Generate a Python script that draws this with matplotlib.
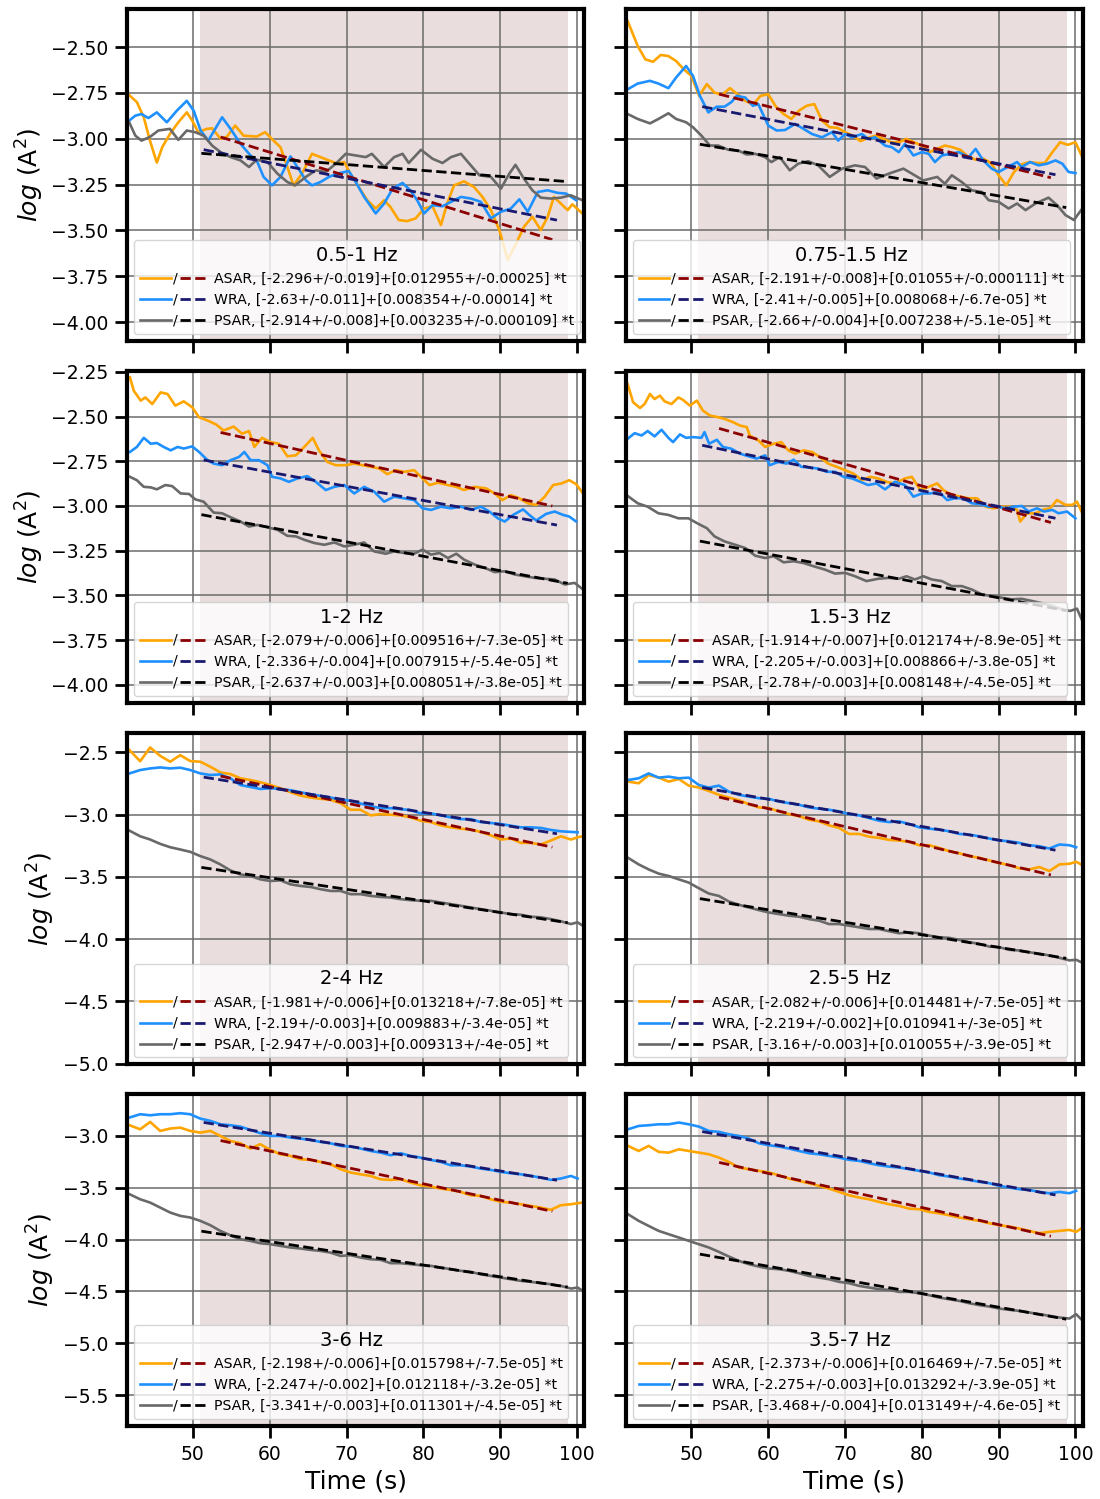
import matplotlib
matplotlib.use('Agg')
import matplotlib.pyplot as plt
import numpy as np
from matplotlib.legend_handler import HandlerBase
from matplotlib.lines import Line2D
from matplotlib.text import Text
from matplotlib.ticker import MultipleLocator

# frequency bands, one per panel
bands = ['0.5-1 Hz', '0.75-1.5 Hz', '1-2 Hz', '1.5-3 Hz',
         '2-4 Hz', '2.5-5 Hz', '3-6 Hz', '3.5-7 Hz']

# linear fit parameters: y = a - b*t   (a +/- ae, b +/- be)
asar_a = [-2.296, -2.191, -2.079, -1.914, -1.981, -2.082, -2.198, -2.373]
asar_ae = [0.019, 0.008, 0.006, 0.007, 0.006, 0.006, 0.006, 0.006]
asar_b = [0.012955, 0.01055, 0.009516, 0.012174, 0.013218, 0.014481, 0.015798, 0.016469]
asar_be = [0.00025, 0.000111, 7.3e-05, 8.9e-05, 7.8e-05, 7.5e-05, 7.5e-05, 7.5e-05]
wra_a = [-2.63, -2.41, -2.336, -2.205, -2.19, -2.219, -2.247, -2.275]
wra_ae = [0.011, 0.005, 0.004, 0.003, 0.003, 0.002, 0.002, 0.003]
wra_b = [0.008354, 0.008068, 0.007915, 0.008866, 0.009883, 0.010941, 0.012118, 0.013292]
wra_be = [0.00014, 6.7e-05, 5.4e-05, 3.8e-05, 3.4e-05, 3e-05, 3.2e-05, 3.9e-05]
psar_a = [-2.914, -2.66, -2.637, -2.78, -2.947, -3.16, -3.341, -3.468]
psar_ae = [0.008, 0.004, 0.003, 0.003, 0.003, 0.003, 0.003, 0.004]
psar_b = [0.003235, 0.007238, 0.008051, 0.008148, 0.009313, 0.010055, 0.011301, 0.013149]
psar_be = [0.000109, 5.1e-05, 3.8e-05, 4.5e-05, 4e-05, 3.9e-05, 4.5e-05, 4.6e-05]

# time windows of the fits and of the shaded window
fit_win = {'ASAR': (53.6, 96.8), 'WRA': (51.4, 97.4), 'PSAR': (51.1, 98.8)}
shade_win = (50.9, 98.9)

# ---- panel 1: 0.5-1 Hz  (t, log A^2)
p1_asar = [(41.7, -2.762), (42.7, -2.80), (43.6, -2.883), (44.4, -3.01), (45.3, -3.13), (46.0, -3.046),
           (47.0, -2.974), (48.1, -2.91), (49.2, -2.856), (49.9, -2.90), (50.7, -2.964), (51.8, -2.946),
           (52.5, -2.943), (53.6, -3.00), (54.4, -2.99), (55.5, -2.928), (56.6, -2.983), (58.3, -2.988),
           (59.4, -2.964), (60.5, -3.01), (61.4, -3.046), (62.3, -3.154), (63.1, -3.254), (64.2, -3.19),
           (65.5, -3.082), (66.6, -3.10), (67.7, -3.118), (68.8, -3.136), (69.7, -3.127), (70.5, -3.19),
           (71.6, -3.263), (72.7, -3.335), (73.8, -3.38), (74.9, -3.335), (75.7, -3.371), (76.8, -3.443),
           (77.9, -3.449), (79.0, -3.434), (80.1, -3.38), (81.2, -3.368), (82.3, -3.47), (83.1, -3.353),
           (84.0, -3.254), (85.3, -3.232), (86.6, -3.263), (87.7, -3.317), (88.8, -3.389), (89.9, -3.498),
           (91.0, -3.66), (92.1, -3.57), (93.1, -3.48), (94.2, -3.425), (95.3, -3.498), (96.2, -3.425),
           (97.0, -3.317), (97.9, -3.353), (98.8, -3.389), (99.4, -3.357), (100.7, -3.407)]
p1_wra = [(41.7, -2.901), (42.5, -2.874), (43.3, -2.865), (44.2, -2.887), (45.3, -2.856), (46.6, -2.91),
          (47.9, -2.847), (49.2, -2.793), (50.1, -2.847), (51.0, -2.955), (52.0, -3.01), (52.9, -2.946),
          (53.8, -2.883), (54.9, -2.946), (56.2, -3.028), (57.5, -3.091), (58.3, -3.118), (59.2, -3.208),
          (60.3, -3.254), (61.4, -3.208), (62.7, -3.096), (63.6, -3.154), (64.7, -3.226), (65.5, -3.254),
          (66.6, -3.236), (67.7, -3.208), (68.8, -3.19), (70.3, -3.176), (71.2, -3.236), (72.3, -3.317),
          (73.8, -3.407), (74.9, -3.353), (76.0, -3.272), (77.3, -3.241), (78.3, -3.281), (79.2, -3.335),
          (80.1, -3.407), (81.2, -3.362), (82.5, -3.368), (83.6, -3.344), (84.9, -3.317), (86.2, -3.326),
          (87.5, -3.344), (88.8, -3.434), (90.1, -3.398), (91.4, -3.38), (92.5, -3.33), (93.6, -3.398),
          (94.9, -3.29), (96.2, -3.281), (97.5, -3.295), (98.6, -3.299), (99.9, -3.335)]
p1_psar = [(41.7, -2.91), (42.5, -2.983), (43.3, -3.01), (44.4, -2.99), (45.5, -2.955), (47.0, -2.946),
           (48.1, -3.006), (49.2, -2.955), (50.3, -2.964), (51.4, -2.983), (52.5, -3.037), (53.6, -3.073),
           (54.9, -3.10), (56.2, -3.118), (57.3, -3.154), (58.3, -3.114), (59.7, -3.127), (61.0, -3.19),
           (62.3, -3.236), (63.3, -3.254), (64.7, -3.208), (66.0, -3.172), (67.3, -3.181), (68.6, -3.136),
           (69.9, -3.082), (71.2, -3.091), (72.5, -3.10), (73.3, -3.082), (74.9, -3.154), (76.2, -3.10),
           (77.3, -3.082), (78.1, -3.132), (79.7, -3.06), (81.2, -3.109), (82.5, -3.132), (83.6, -3.10),
           (84.9, -3.082), (86.0, -3.136), (87.3, -3.199), (88.8, -3.208), (90.1, -3.272), (91.2, -3.19),
           (92.0, -3.142), (93.1, -3.217), (94.2, -3.281), (95.3, -3.321), (96.6, -3.326), (97.9, -3.321),
           (99.2, -3.308), (100.7, -3.335)]

# ---- panel 2: 0.75-1.5 Hz
p2_asar = [(41.7, -2.359), (43, -2.494), (44, -2.567), (45, -2.58), (46, -2.543), (47, -2.549), (48, -2.576),
           (49, -2.621), (50, -2.657), (51, -2.766), (52, -2.702), (53, -2.748), (54, -2.76), (55, -2.724),
           (56, -2.757), (57, -2.793), (58, -2.814), (59, -2.766), (60, -2.757), (61, -2.825), (62, -2.865),
           (63, -2.892), (64, -2.847), (65, -2.82), (66, -2.811), (67, -2.901), (68, -2.937), (69, -2.94),
           (70, -2.964), (71, -2.983), (72, -3.013), (73, -2.995), (74, -2.983), (75, -3.001), (76, -3.019),
           (77, -3.019), (78, -3.001), (79, -3.019), (80, -3.037), (81, -3.073), (82, -3.055), (83, -3.037),
           (84, -3.046), (85, -3.06), (86, -3.096), (87, -3.114), (88, -3.109), (89, -3.132), (90, -3.199),
           (91, -3.254), (92, -3.181), (93, -3.139), (94, -3.127), (95, -3.132), (96, -3.132), (97, -3.073),
           (98, -3.019), (99, -3.033), (100, -3.019), (100.8, -3.091)]
p2_wra = [(41.7, -2.73), (43.0, -2.699), (44.6, -2.684), (45.7, -2.699), (47.0, -2.724), (48.0, -2.666),
          (49.3, -2.603), (50.2, -2.657), (51.1, -2.766), (52.2, -2.856), (53.3, -2.825), (54.3, -2.825),
          (55.2, -2.80), (55.9, -2.766), (57.0, -2.775), (58.0, -2.82), (58.7, -2.811), (60.0, -2.928),
          (61.1, -2.955), (62.2, -2.952), (63.5, -2.919), (64.6, -2.946), (65.7, -2.974), (67.0, -2.992),
          (68.3, -2.964), (69.1, -3.01), (70.0, -2.974), (70.9, -2.992), (72.2, -2.974), (73.0, -3.001),
          (73.9, -2.992), (75.2, -3.037), (76.1, -3.046), (77.0, -3.073), (77.8, -3.028), (78.9, -3.091),
          (80.0, -3.073), (80.9, -3.082), (81.7, -3.127), (82.6, -3.091), (83.7, -3.082), (84.8, -3.073),
          (86.1, -3.10), (87.0, -3.055), (88.0, -3.118), (89.1, -3.163), (90.0, -3.181), (91.3, -3.151),
          (92.4, -3.127), (93.0, -3.154), (94.1, -3.127), (95.2, -3.145), (96.3, -3.136), (97.4, -3.118),
          (98.3, -3.136), (99.1, -3.181), (100.0, -3.187)]
p2_psar = [(41.7, -2.865), (43.0, -2.892), (44.6, -2.916), (45.7, -2.892), (47.0, -2.861), (48.0, -2.892),
           (49.3, -2.91), (50.2, -2.937), (51.3, -2.983), (52.4, -3.037), (53.5, -3.037), (54.8, -3.06),
           (56.1, -3.064), (57.2, -3.086), (58.3, -3.082), (59.6, -3.10), (60.4, -3.127), (61.5, -3.10),
           (62.8, -3.172), (63.9, -3.136), (65.2, -3.122), (66.5, -3.145), (68.0, -3.208), (69.6, -3.163),
           (71.3, -3.145), (72.6, -3.154), (74.1, -3.217), (75.7, -3.19), (77.6, -3.163), (78.7, -3.19),
           (80.2, -3.227), (82.0, -3.208), (83.0, -3.245), (83.9, -3.199), (85.2, -3.236), (86.5, -3.281),
           (87.8, -3.29), (88.7, -3.335), (90.0, -3.344), (91.3, -3.38), (92.4, -3.353), (93.5, -3.389),
           (94.8, -3.353), (96.5, -3.321), (97.6, -3.362), (98.7, -3.416), (99.8, -3.443), (100.9, -3.38)]

# ---- panel 3: 1-2 Hz
p3_asar = [(41.8, -2.281), (42.3, -2.356), (43.2, -2.411), (43.8, -2.393), (44.7, -2.43), (45.8, -2.365),
           (46.7, -2.374), (47.7, -2.439), (48.8, -2.415), (49.9, -2.448), (50.8, -2.504), (51.9, -2.522),
           (53.0, -2.544), (54.0, -2.578), (55.3, -2.556), (56.4, -2.596), (57.3, -2.581), (58.0, -2.67),
           (59.0, -2.619), (60.1, -2.643), (61.2, -2.652), (62.3, -2.722), (63.4, -2.717), (64.5, -2.67),
           (65.6, -2.619), (66.4, -2.689), (67.5, -2.754), (68.6, -2.772), (69.9, -2.772), (71.0, -2.763),
           (72.1, -2.772), (73.2, -2.781), (74.3, -2.791), (75.3, -2.822), (76.4, -2.80), (77.5, -2.809),
           (78.8, -2.80), (79.7, -2.837), (80.8, -2.883), (81.9, -2.87), (83.2, -2.883), (84.3, -2.893),
           (85.3, -2.911), (86.7, -2.893), (88.2, -2.902), (89.3, -2.93), (90.3, -2.967), (91.4, -2.939),
           (92.5, -2.957), (93.6, -2.985), (94.7, -2.994), (95.8, -2.948), (96.9, -2.883), (98.0, -2.874),
           (99.0, -2.856), (99.9, -2.878), (100.8, -2.93)]
p3_wra = [(41.8, -2.698), (42.7, -2.67), (43.6, -2.619), (44.5, -2.652), (45.3, -2.648), (46.2, -2.67),
          (47.1, -2.689), (48.0, -2.67), (48.8, -2.679), (49.9, -2.667), (50.8, -2.698), (51.9, -2.744),
          (52.7, -2.763), (53.8, -2.772), (54.9, -2.744), (56.0, -2.726), (56.7, -2.698), (57.5, -2.744),
          (58.6, -2.744), (59.7, -2.772), (60.3, -2.837), (61.4, -2.846), (62.5, -2.865), (63.6, -2.846),
          (64.9, -2.833), (66.0, -2.865), (67.3, -2.911), (68.4, -2.893), (69.7, -2.883), (71.0, -2.93),
          (72.3, -2.893), (73.6, -2.92), (74.9, -2.976), (76.2, -2.948), (77.5, -2.957), (78.8, -2.967),
          (79.9, -3.013), (81.0, -3.022), (82.3, -3.004), (83.6, -3.013), (84.9, -3.004), (86.2, -3.022),
          (87.5, -3.004), (88.6, -3.031), (89.7, -3.069), (90.6, -3.087), (91.7, -3.05), (93.0, -3.019),
          (93.8, -3.05), (94.7, -3.081), (96.0, -3.044), (97.1, -3.031), (98.2, -3.05), (99.0, -3.059),
          (99.9, -3.087)]
p3_psar = [(41.8, -2.837), (42.7, -2.856), (43.6, -2.893), (44.5, -2.896), (45.3, -2.907), (46.4, -2.883),
           (47.3, -2.889), (48.4, -2.93), (49.5, -2.933), (50.3, -2.963), (51.4, -2.976), (52.7, -3.037),
           (53.8, -3.041), (54.9, -3.063), (56.2, -3.087), (57.3, -3.115), (58.4, -3.106), (59.7, -3.119),
           (61.0, -3.133), (62.3, -3.167), (63.4, -3.17), (64.5, -3.189), (65.8, -3.207), (67.1, -3.217),
           (68.4, -3.204), (69.7, -3.226), (71.0, -3.217), (72.3, -3.204), (73.6, -3.254), (75.1, -3.267),
           (76.2, -3.254), (77.5, -3.263), (78.8, -3.267), (79.9, -3.244), (81.0, -3.272), (82.1, -3.263),
           (83.2, -3.291), (84.3, -3.267), (85.3, -3.30), (86.7, -3.328), (88.0, -3.346), (89.3, -3.37),
           (90.6, -3.365), (91.9, -3.383), (93.2, -3.393), (94.5, -3.402), (95.8, -3.407), (97.1, -3.411),
           (98.4, -3.439), (99.7, -3.43), (100.8, -3.467)]

# ---- panel 4: 1.5-3 Hz
p4_asar = [(41.7, -2.319), (42.4, -2.42), (43.3, -2.452), (43.9, -2.43), (44.6, -2.374), (45.2, -2.402),
           (45.9, -2.383), (46.5, -2.415), (47.4, -2.43), (48.3, -2.393), (48.9, -2.407), (49.8, -2.439),
           (50.7, -2.411), (51.5, -2.467), (52.4, -2.494), (53.5, -2.504), (54.3, -2.513), (55.4, -2.531),
           (56.3, -2.55), (57.2, -2.559), (57.6, -2.606), (58.7, -2.633), (59.6, -2.67), (60.7, -2.652),
           (61.7, -2.643), (62.6, -2.689), (63.5, -2.707), (64.6, -2.689), (65.7, -2.698), (66.7, -2.726),
           (67.8, -2.763), (68.9, -2.781), (70.0, -2.80), (71.1, -2.819), (72.2, -2.856), (73.3, -2.837),
           (74.3, -2.846), (75.4, -2.865), (76.5, -2.874), (77.8, -2.846), (78.7, -2.837), (79.8, -2.911),
           (80.9, -2.893), (82.0, -2.874), (82.8, -2.911), (83.9, -2.939), (85.0, -2.948), (86.1, -2.957),
           (87.2, -2.957), (88.3, -3.004), (89.3, -3.013), (90.4, -3.004), (91.5, -3.004), (92.4, -3.022),
           (92.8, -3.087), (93.7, -3.041), (94.8, -3.041), (95.9, -3.019), (96.7, -3.013), (97.6, -2.967),
           (98.7, -2.994), (99.6, -2.994), (100.2, -2.976), (100.9, -3.041)]
p4_wra = [(41.7, -2.624), (42.6, -2.593), (43.5, -2.606), (44.3, -2.581), (45.2, -2.611), (46.1, -2.574),
          (47.0, -2.619), (47.6, -2.643), (48.5, -2.6), (49.3, -2.619), (50.2, -2.615), (51.3, -2.619),
          (51.7, -2.587), (52.3, -2.652), (53.3, -2.63), (54.1, -2.67), (55.2, -2.68), (56.3, -2.707),
          (57.4, -2.722), (58.5, -2.735), (59.6, -2.717), (60.2, -2.772), (61.3, -2.754), (62.4, -2.763),
          (63.3, -2.741), (64.3, -2.781), (65.4, -2.785), (66.5, -2.791), (67.6, -2.809), (68.7, -2.809),
          (69.8, -2.837), (70.9, -2.846), (72.0, -2.865), (73.0, -2.883), (74.1, -2.874), (75.2, -2.907),
          (76.5, -2.865), (77.8, -2.883), (78.9, -2.948), (80.0, -2.93), (81.1, -2.93), (82.2, -2.92),
          (83.3, -2.967), (84.3, -2.957), (85.4, -2.957), (86.5, -2.985), (87.6, -2.989), (88.7, -3.004),
          (89.8, -3.004), (90.9, -3.013), (92.0, -3.004), (93.0, -3.0), (93.9, -3.031), (95.0, -3.013),
          (95.9, -3.031), (97.0, -3.022), (97.8, -3.041), (98.9, -3.031), (100.0, -3.069)]
p4_psar = [(41.7, -2.944), (43.0, -2.985), (44.3, -3.004), (45.7, -3.041), (47.0, -3.05), (48.3, -3.069),
           (49.6, -3.069), (50.9, -3.10), (52.0, -3.124), (53.0, -3.17), (54.3, -3.198), (55.7, -3.217),
           (57.0, -3.235), (58.3, -3.278), (59.6, -3.291), (60.7, -3.281), (62.0, -3.315), (63.3, -3.309),
           (64.6, -3.319), (65.9, -3.337), (67.4, -3.356), (68.7, -3.378), (70.0, -3.374), (71.3, -3.393),
           (72.8, -3.42), (74.3, -3.407), (75.7, -3.402), (77.0, -3.407), (78.0, -3.393), (79.1, -3.411),
           (80.2, -3.393), (81.3, -3.411), (82.6, -3.42), (83.9, -3.448), (85.2, -3.448), (86.5, -3.467),
           (87.8, -3.494), (89.1, -3.504), (90.4, -3.513), (91.7, -3.522), (93.0, -3.519), (94.3, -3.531),
           (95.7, -3.544), (97.0, -3.559), (98.3, -3.578), (99.3, -3.587), (100.2, -3.574), (100.9, -3.643)]

# ---- panels 5-8 share one time grid
t_grid = [41.74, 43.13, 44.43, 45.74, 47.04, 48.35, 49.65, 50.96, 52.26, 53.57, 54.87, 56.17, 57.48,
          58.78, 60.09, 61.39, 62.70, 64.00, 65.30, 66.61, 67.91, 69.22, 70.52, 71.83, 73.13, 74.43,
          75.74, 77.04, 78.35, 79.65, 80.96, 82.26, 83.57, 84.87, 86.17, 87.48, 88.78, 90.09, 91.39,
          92.70, 94.00, 95.30, 96.61, 97.91, 99.22, 100.09, 100.74]

p5_asar = [-2.481, -2.57, -2.46, -2.527, -2.574, -2.521, -2.569, -2.574, -2.614, -2.66,
           -2.673, -2.707, -2.721, -2.739, -2.761, -2.787, -2.819, -2.846, -2.862, -2.872,
           -2.88, -2.907, -2.96, -2.96, -3.005, -2.995, -3.0, -3.005, -3.021, -3.048,
           -3.059, -3.085, -3.101, -3.112, -3.12, -3.138, -3.165, -3.199, -3.191, -3.226,
           -3.226, -3.239, -3.207, -3.173, -3.199, -3.181, -3.173]
p5_wra = [-2.668, -2.641, -2.628, -2.62, -2.628, -2.622, -2.641, -2.668, -2.681, -2.676,
          -2.707, -2.761, -2.777, -2.793, -2.787, -2.793, -2.803, -2.819, -2.835, -2.848,
          -2.862, -2.878, -2.888, -2.91, -2.931, -2.947, -2.947, -2.955, -2.963, -2.989,
          -2.989, -3.005, -3.021, -3.035, -3.035, -3.059, -3.066, -3.074, -3.088, -3.101,
          -3.101, -3.106, -3.122, -3.133, -3.138, -3.141]
p5_psar = [-3.128, -3.173, -3.199, -3.234, -3.261, -3.279, -3.298, -3.332, -3.359, -3.399,
           -3.447, -3.479, -3.492, -3.519, -3.532, -3.527, -3.559, -3.572, -3.58, -3.598,
           -3.612, -3.612, -3.638, -3.638, -3.652, -3.66, -3.665, -3.678, -3.686, -3.691,
           -3.691, -3.705, -3.718, -3.731, -3.745, -3.758, -3.771, -3.785, -3.798, -3.803,
           -3.819, -3.824, -3.838, -3.856, -3.878, -3.864, -3.891]

p6_asar = [-2.734, -2.747, -2.681, -2.702, -2.734, -2.713, -2.766, -2.782, -2.809, -2.84,
           -2.862, -2.883, -2.915, -2.941, -2.947, -2.973, -2.995, -3.011, -3.04, -3.053,
           -3.085, -3.106, -3.154, -3.154, -3.176, -3.186, -3.202, -3.207, -3.218, -3.245,
           -3.245, -3.266, -3.293, -3.309, -3.332, -3.346, -3.367, -3.388, -3.404, -3.431,
           -3.439, -3.42, -3.452, -3.399, -3.394, -3.378, -3.399]
p6_wra = [-2.721, -2.707, -2.668, -2.702, -2.694, -2.707, -2.702, -2.761, -2.782, -2.766,
          -2.814, -2.84, -2.854, -2.867, -2.872, -2.894, -2.907, -2.92, -2.941, -2.952,
          -2.96, -2.973, -2.995, -3.005, -3.027, -3.048, -3.059, -3.053, -3.074, -3.101,
          -3.112, -3.12, -3.133, -3.154, -3.16, -3.173, -3.191, -3.207, -3.213, -3.226,
          -3.245, -3.253, -3.271, -3.239, -3.245, -3.261]
p6_psar = [-3.346, -3.399, -3.439, -3.473, -3.492, -3.519, -3.545, -3.59, -3.633, -3.652,
           -3.697, -3.723, -3.745, -3.766, -3.785, -3.798, -3.811, -3.819, -3.838, -3.851,
           -3.878, -3.878, -3.891, -3.904, -3.918, -3.918, -3.936, -3.952, -3.944, -3.952,
           -3.971, -3.984, -3.989, -4.005, -4.024, -4.037, -4.059, -4.064, -4.085, -4.09,
           -4.104, -4.117, -4.13, -4.149, -4.17, -4.165, -4.184]

p7_asar = [-2.897, -2.936, -2.865, -2.952, -2.929, -2.92, -2.952, -2.968, -2.952, -3.0,
           -3.048, -3.071, -3.122, -3.08, -3.135, -3.177, -3.193, -3.225, -3.231, -3.251,
           -3.273, -3.321, -3.353, -3.37, -3.386, -3.418, -3.424, -3.418, -3.45, -3.476,
           -3.488, -3.508, -3.521, -3.54, -3.572, -3.578, -3.611, -3.636, -3.643, -3.659,
           -3.675, -3.691, -3.713, -3.668, -3.659, -3.649, -3.643]
p7_wra = [-2.823, -2.791, -2.801, -2.791, -2.791, -2.781, -2.791, -2.833, -2.855, -2.888,
          -2.897, -2.91, -2.942, -2.974, -3.0, -3.0, -3.016, -3.026, -3.039, -3.058,
          -3.071, -3.096, -3.103, -3.122, -3.145, -3.161, -3.186, -3.167, -3.193, -3.209,
          -3.231, -3.251, -3.283, -3.283, -3.296, -3.315, -3.328, -3.347, -3.36, -3.37,
          -3.386, -3.402, -3.424, -3.411, -3.386, -3.411]
p7_psar = [-3.562, -3.611, -3.643, -3.691, -3.739, -3.771, -3.787, -3.819, -3.861, -3.916,
           -3.958, -3.996, -4.012, -4.035, -4.044, -4.06, -4.076, -4.086, -4.099, -4.109,
           -4.125, -4.157, -4.15, -4.173, -4.189, -4.195, -4.227, -4.227, -4.237, -4.247,
           -4.253, -4.269, -4.285, -4.301, -4.311, -4.334, -4.35, -4.366, -4.382, -4.398,
           -4.407, -4.42, -4.43, -4.446, -4.472, -4.462, -4.494]

p8_asar = [-3.096, -3.145, -3.096, -3.154, -3.161, -3.129, -3.145, -3.161, -3.177, -3.209,
           -3.251, -3.305, -3.321, -3.337, -3.353, -3.379, -3.411, -3.434, -3.456, -3.482,
           -3.508, -3.54, -3.572, -3.594, -3.611, -3.636, -3.659, -3.675, -3.701, -3.707,
           -3.733, -3.746, -3.765, -3.787, -3.803, -3.819, -3.842, -3.861, -3.874, -3.893,
           -3.916, -3.938, -3.925, -3.916, -3.906, -3.925, -3.893]
p8_wra = [-2.936, -2.904, -2.897, -2.888, -2.888, -2.871, -2.888, -2.91, -2.952, -2.961,
          -2.984, -3.0, -3.026, -3.071, -3.09, -3.103, -3.122, -3.145, -3.167, -3.177,
          -3.193, -3.209, -3.231, -3.241, -3.263, -3.283, -3.296, -3.305, -3.321, -3.337,
          -3.353, -3.379, -3.392, -3.411, -3.424, -3.443, -3.456, -3.482, -3.498, -3.514,
          -3.521, -3.54, -3.553, -3.54, -3.553, -3.53]
p8_psar = [-3.755, -3.819, -3.868, -3.916, -3.948, -3.98, -4.012, -4.044, -4.076, -4.118,
           -4.163, -4.205, -4.237, -4.26, -4.279, -4.285, -4.301, -4.324, -4.35, -4.366,
           -4.382, -4.407, -4.42, -4.446, -4.462, -4.478, -4.485, -4.504, -4.504, -4.517,
           -4.536, -4.559, -4.575, -4.591, -4.613, -4.632, -4.645, -4.665, -4.677, -4.687,
           -4.703, -4.719, -4.735, -4.751, -4.761, -4.719, -4.767]

# y-range and tick step of each row
row_ylim = [(-4.103, -2.294), (-4.10, -2.245), (-5.005, -2.34), (-5.797, -2.598)]
row_ystep = [0.25, 0.25, 0.5, 0.5]


def pairs(p):
    return [a for a, b in p], [b for a, b in p]


def grid(y):
    return t_grid[:len(y)], y


curves = [
    [pairs(p1_asar), pairs(p1_wra), pairs(p1_psar)],
    [pairs(p2_asar), pairs(p2_wra), pairs(p2_psar)],
    [pairs(p3_asar), pairs(p3_wra), pairs(p3_psar)],
    [pairs(p4_asar), pairs(p4_wra), pairs(p4_psar)],
    [grid(p5_asar), grid(p5_wra), grid(p5_psar)],
    [grid(p6_asar), grid(p6_wra), grid(p6_psar)],
    [grid(p7_asar), grid(p7_wra), grid(p7_psar)],
    [grid(p8_asar), grid(p8_wra), grid(p8_psar)],
]

names = ['ASAR', 'WRA', 'PSAR']
data_colors = ['orange', 'dodgerblue', 'dimgray']
fit_colors = ['darkred', 'midnightblue', 'black']


class SlashHandler(HandlerBase):
    # solid data line, a "/" and the dashed fit line in one legend entry
    def create_artists(self, legend, orig_handle, xdescent, ydescent,
                       width, height, fontsize, trans):
        solid, dashed = orig_handle
        y = height / 2 - ydescent
        x0 = -xdescent
        l1 = Line2D([x0, x0 + 0.46 * width], [y, y], color=solid.get_color(),
                    lw=solid.get_linewidth())
        sl = Text(x0 + 0.53 * width, y, '/', ha='center', va='center',
                  fontsize=fontsize)
        l2 = Line2D([x0 + 0.6 * width, x0 + width], [y, y], color=dashed.get_color(),
                    lw=dashed.get_linewidth(), ls='--')
        for art in (l1, sl, l2):
            art.set_transform(trans)
        return [l1, sl, l2]


fig, axes = plt.subplots(4, 2, figsize=(11, 14.99), dpi=100, sharex=True, sharey='row')
fig.subplots_adjust(left=0.1157, right=0.9843, top=0.9938, bottom=0.0487,
                    wspace=0.091, hspace=0.09)

for i, ax in enumerate(axes.flat):
    row = i // 2
    ax.axvspan(*shade_win, color='rosybrown', alpha=0.3, lw=0)
    ax.grid(True, color='0.42', lw=1.1)

    params = [(asar_a[i], asar_ae[i], asar_b[i], asar_be[i]),
              (wra_a[i], wra_ae[i], wra_b[i], wra_be[i]),
              (psar_a[i], psar_ae[i], psar_b[i], psar_be[i])]
    data_lines = []
    for k in range(3):
        t, y = curves[i][k]
        ln, = ax.plot(t, y, color=data_colors[k], lw=1.9)
        data_lines.append(ln)

    handles, labels = [], []
    for k in range(3):
        a, ae, b, be = params[k]
        t0, t1 = fit_win[names[k]]
        tf = np.array([t0, t1])
        fl, = ax.plot(tf, a - b * tf, color=fit_colors[k], lw=2, ls='--')
        handles.append((data_lines[k], fl))
        labels.append(f'{names[k]}, [{a}+/-{ae}]+[{b}+/-{be}] *t')

    ax.legend(handles, labels, handler_map={tuple: SlashHandler()},
              title=bands[i], title_fontsize=14, fontsize=10.2,
              loc='lower left', handlelength=4.7, handletextpad=0.5)

    ax.set_xlim(41.45, 100.95)
    ax.set_ylim(*row_ylim[row])
    ax.yaxis.set_major_locator(MultipleLocator(row_ystep[row]))
    ax.xaxis.set_major_locator(MultipleLocator(10))
    for sp in ax.spines.values():
        sp.set_linewidth(3)
    ax.tick_params(length=8.5, width=2, labelsize=13.5, pad=5)
    if i % 2 == 0:
        ax.set_ylabel(r'$log$ (A$^2$)', fontsize=18)
    if row == 3:
        ax.set_xlabel('Time (s)', fontsize=18)

fig.savefig('out.png', dpi=100)
